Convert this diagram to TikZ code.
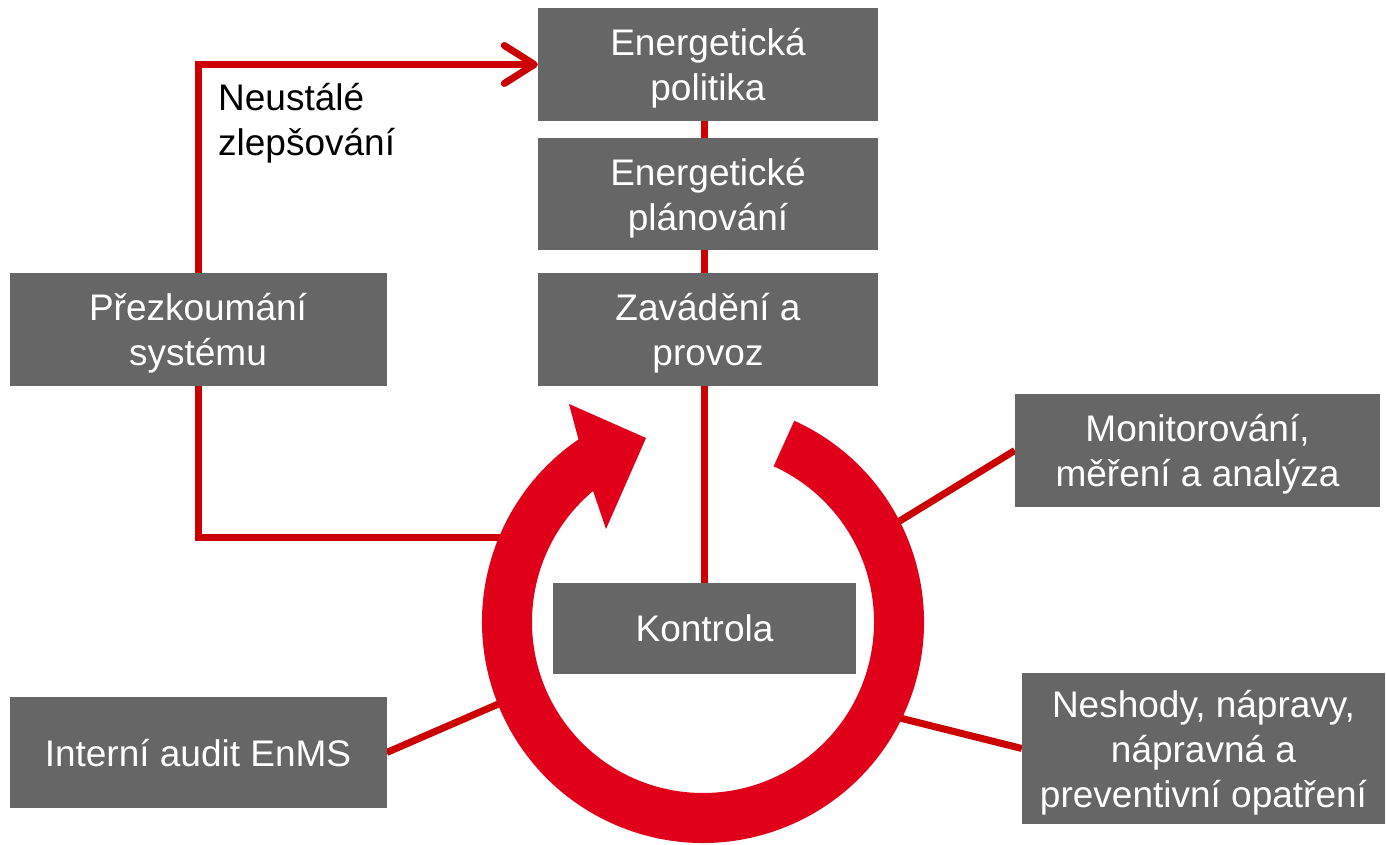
\documentclass[tikz,border=0pt]{standalone}
\usepackage{fontspec}
\setmainfont{Liberation Sans}
\usetikzlibrary{arrows.meta,calc,backgrounds}
\definecolor{boxgray}{HTML}{666666}
\definecolor{ringred}{HTML}{E0001A}
\definecolor{linered}{HTML}{CC0000}

\begin{document}
\begin{tikzpicture}[x=1pt,y=1pt,
		box/.style={rectangle, fill=boxgray, text=white, align=center, inner sep=0pt, text depth=0pt, font=\fontsize{37}{45}\selectfont},
		redline/.style={draw=linered, line width=7pt}]
	\useasboundingbox (0,0) rectangle (1386,845);
	% top column
	\node [box, minimum width=340pt, minimum height=113pt] (pol) at (708,780.5) {Energetická\\politika};
	\node [box, minimum width=340pt, minimum height=112pt] (plan) at (708,651) {Energetické\\plánování};
	\node [box, minimum width=340pt, minimum height=113pt] (zav) at (708,515.5) {Zavádění a\\provoz};
	% side boxes
	\node [box, minimum width=377pt, minimum height=113pt] (prez) at (198,515.5) {Přezkoumání\\systému};
	\node [box, minimum width=365pt, minimum height=113pt] (mon) at (1197.5,394.5) {Monitorování,\\měření a analýza};
	\node [box, minimum width=303pt, minimum height=91pt] (kon) at (704.5,216.5) {Kontrola};
	\node [box, minimum width=377pt, minimum height=111pt] (aud) at (198,92.5) {Interní audit EnMS};
	\node [box, minimum width=363pt, minimum height=151pt] (nes) at (1203.5,96.5) {Neshody, nápravy,\\nápravná a\\preventivní opatření};
	\node [anchor=north west, align=left, inner sep=0pt, font=\fontsize{37}{45}\selectfont] (nz) at (218,762) {Neustálé\\zlepšování};
	% ring
	\coordinate (c) at (703,223);
	\coordinate (rw) at ($(c)+(157.2:218)$);
	\coordinate (rm) at ($(c)+(27:212)$);
	\coordinate (rn) at ($(c)+(-26.4:212)$);
	\coordinate (ra) at ($(c)+(201.8:215)$);
	\begin{pgfonlayer}{background}
		\draw [redline] (pol.south -| kon.north) -- (kon.north);
		\draw [redline, -{Straight Barb[length=30pt,width=38pt,round]}] (prez.north) |- (pol.west);
		\draw [redline] (prez.south) |- (rw);
		\draw [redline] (mon.west) -- (rm);
		\draw [redline] (nes.west) -- (rn);
		\draw [redline] (aud.east) -- (ra);
	\end{pgfonlayer}
	\fill [ringred] ($(c)+(65.6:221)$) arc [start angle=65.6, end angle=-235.7, radius=221pt]
		-- ($(c)+(-134,218)$) -- ($(c)+(-57,184)$) -- ($(c)+(-97,93)$)
		-- ($(c)+(130:171)$) arc [start angle=-230, end angle=65.6, radius=171pt] -- cycle;
\end{tikzpicture}
\end{document}
